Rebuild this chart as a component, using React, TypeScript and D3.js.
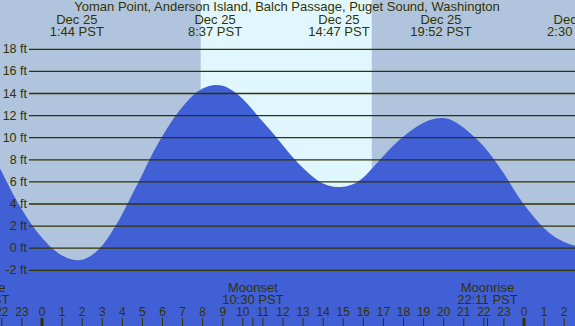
import React, { useEffect, useRef } from 'react';
import * as d3 from 'd3';

// tide height readings, hours from midnight Dec 25 (PST)
const tideHours = [
    -2.5, -2, -1.5, -1, -0.5, 0, 0.5, 1, 1.5, 2, 2.5, 3, 3.5, 4, 4.5, 5, 5.5, 6, 6.5, 7,
    7.5, 8, 8.5, 9, 9.5, 10, 10.5, 11, 11.5, 12, 12.5, 13, 13.5, 14, 14.5, 15, 15.5, 16,
    16.5, 17, 17.5, 18, 18.5, 19, 19.5, 20, 20.5, 21, 21.5, 22, 22.5, 23, 23.5, 24, 24.5,
    25, 25.5, 26, 26.5, 27,
];
const tideFeet = [
    8.6, 6.9, 5.1, 3.5, 2.1, 0.95, 0.0, -0.65, -1.02, -1.05, -0.6, 0.25, 1.55, 3.1, 4.9, 6.7, 8.55, 10.15, 11.6, 12.8,
    13.8, 14.45, 14.75, 14.7, 14.25, 13.5, 12.5, 11.45, 10.4, 9.3, 8.2, 7.25, 6.45, 5.85, 5.57, 5.55, 5.8, 6.4,
    7.35, 8.35, 9.3, 10.1, 10.8, 11.35, 11.7, 11.78, 11.5, 10.9, 10.1, 9.2, 8.05, 6.75, 5.3, 3.95, 2.8,
    1.8, 1.05, 0.55, 0.25, 0.2,
];

// high / low tide labels along the top
const tideEventHours = [1.733, 8.617, 14.783, 19.867, 26.5];
const tideEventDates = ['Dec 25', 'Dec 25', 'Dec 25', 'Dec 25', 'Dec 26'];
const tideEventTimes = ['1:44 PST', '8:37 PST', '14:47 PST', '19:52 PST', '2:30 PST'];

// moon events along the bottom
const moonEventHours = [-3.15, 10.5, 22.183];
const moonEventNames = ['Moonrise', 'Moonset', 'Moonrise'];
const moonEventTimes = ['20:51 PST', '10:30 PST', '22:11 PST'];

const sunriseHour = 7.9;
const sunsetHour = 16.42;

const feetTicks = [-2, 0, 2, 4, 6, 8, 10, 12, 14, 16, 18];
const hourTicks = d3.range(-2, 27);

const title = 'Yoman Point, Anderson Island, Balch Passage, Puget Sound, Washington';

const TideChart: React.FC = () => {
    const svgRef = useRef<SVGSVGElement>(null);

    useEffect(() => {
        if (!svgRef.current) return;

        const svg = d3.select(svgRef.current);
        svg.selectAll('*').remove();

        const width = 575;
        const height = 326;
        const font = '"Liberation Sans", Arial, sans-serif';
        const ink = '#333300';

        const x = d3.scaleLinear().domain([0, 24]).range([42, 524]);
        const y = d3.scaleLinear().domain([-2, 18]).range([270.3, 49.3]);

        // night / day background
        svg.append('rect')
            .attr('width', width)
            .attr('height', height)
            .attr('fill', '#b0c4de');

        svg.append('rect')
            .attr('x', x(sunriseHour))
            .attr('y', 0)
            .attr('width', x(sunsetHour) - x(sunriseHour))
            .attr('height', height)
            .attr('fill', '#e0f7ff');

        // tide area
        const area = d3.area<number>()
            .x((_, i) => x(tideHours[i]))
            .y0(height)
            .y1(d => y(d))
            .curve(d3.curveNatural);

        svg.append('path')
            .attr('d', area(tideFeet) as string)
            .attr('fill', '#4160d6');

        // grid lines + feet labels
        feetTicks.forEach(t => {
            svg.append('line')
                .attr('x1', 29)
                .attr('x2', width)
                .attr('y1', y(t))
                .attr('y2', y(t))
                .attr('stroke', ink)
                .attr('stroke-width', 1.3);

            svg.append('text')
                .attr('x', 27)
                .attr('y', y(t))
                .attr('text-anchor', 'end')
                .attr('dominant-baseline', 'central')
                .attr('font-family', font)
                .attr('font-size', '12.5px')
                .attr('fill', ink)
                .text(`${t} ft`);
        });

        // title
        svg.append('text')
            .attr('x', 287)
            .attr('y', 11)
            .attr('text-anchor', 'middle')
            .attr('font-family', font)
            .attr('font-size', '13px')
            .attr('fill', ink)
            .text(title);

        // tide event labels
        tideEventHours.forEach((h, i) => {
            svg.append('text')
                .attr('x', x(h))
                .attr('y', 24)
                .attr('text-anchor', 'middle')
                .attr('font-family', font)
                .attr('font-size', '13px')
                .attr('fill', ink)
                .text(tideEventDates[i]);
            svg.append('text')
                .attr('x', x(h))
                .attr('y', 36)
                .attr('text-anchor', 'middle')
                .attr('font-family', font)
                .attr('font-size', '13px')
                .attr('fill', ink)
                .text(tideEventTimes[i]);
        });

        // moon events
        moonEventHours.forEach((h, i) => {
            svg.append('text')
                .attr('x', x(h))
                .attr('y', 291.5)
                .attr('text-anchor', 'middle')
                .attr('font-family', font)
                .attr('font-size', '13px')
                .attr('fill', ink)
                .text(moonEventNames[i]);
            svg.append('text')
                .attr('x', x(h))
                .attr('y', 304)
                .attr('text-anchor', 'middle')
                .attr('font-family', font)
                .attr('font-size', '13px')
                .attr('fill', ink)
                .text(moonEventTimes[i]);
            svg.append('line')
                .attr('x1', x(h))
                .attr('x2', x(h))
                .attr('y1', 318)
                .attr('y2', height)
                .attr('stroke', ink)
                .attr('stroke-width', 1);
        });

        // hour ticks
        hourTicks.forEach(h => {
            const midnight = h % 24 === 0;
            svg.append('line')
                .attr('x1', x(h))
                .attr('x2', x(h))
                .attr('y1', 318)
                .attr('y2', height)
                .attr('stroke', ink)
                .attr('stroke-width', midnight ? 3 : 1);

            svg.append('text')
                .attr('x', x(h))
                .attr('y', 316)
                .attr('text-anchor', 'middle')
                .attr('font-family', font)
                .attr('font-size', '12px')
                .attr('fill', ink)
                .text(((h % 24) + 24) % 24);
        });
    }, []);

    return (
        <svg
            ref={svgRef}
            width="575"
            height="326"
            style={{ position: 'fixed', left: 0, top: 0, display: 'block' }}
        ></svg>
    );
};

export default function App() {
    return <TideChart />;
}
